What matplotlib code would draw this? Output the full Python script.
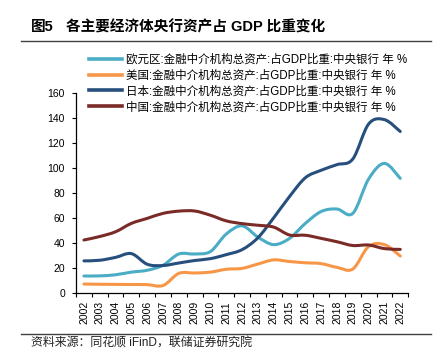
import numpy as np
import matplotlib
matplotlib.use('Agg')
import matplotlib.pyplot as plt
from matplotlib.path import Path
from matplotlib.patches import PathPatch
from matplotlib.lines import Line2D

plt.rcParams['font.family'] = ['Liberation Sans', 'Noto Sans CJK SC', 'DejaVu Sans']

# data
years = [str(y) for y in range(2002, 2023)]
euro = [13.4, 13.5, 14.4, 16.5, 18, 22, 31, 31, 33, 47, 53.5, 44.5, 38.5, 43.5, 55.5, 65, 67, 63.5, 91, 103.5, 91.5]
usa = [7, 6.8, 6.7, 6.6, 6.5, 5.8, 15.5, 15.8, 16.5, 18.8, 19.5, 23, 26.3, 25, 24, 23.3, 20.3, 19, 37, 38.5, 29.4]
japan = [25.5, 26, 28.3, 31.3, 22.8, 21.8, 23.8, 25.8, 27.3, 30.5, 34.5, 44, 60, 77, 92, 98, 102.5, 107, 135, 138.5, 129]
china = [42.2, 45, 48.8, 55.5, 59.5, 63.5, 65.3, 65.4, 62, 57.5, 55.3, 54, 52.5, 46.2, 46, 43.5, 40.8, 37.8, 38.2, 35.3, 34.7]

labels = ['欧元区:金融中介机构总资产:占GDP比重:中央银行 年 %',
          '美国:金融中介机构总资产:占GDP比重:中央银行 年 %',
          '日本:金融中介机构总资产:占GDP比重:中央银行 年 %',
          '中国:金融中介机构总资产:占GDP比重:中央银行 年 %']
colors = ['#4BACC6', '#F79646', '#274F7D', '#7A2B27']


def smooth_path(xs, ys):
    # excel-like smoothed line as cubic bezier segments
    pts = np.column_stack([xs, ys])
    verts = [pts[0]]
    codes = [Path.MOVETO]
    n = len(pts)
    for i in range(n - 1):
        p0 = pts[max(i - 1, 0)]
        p1 = pts[i]
        p2 = pts[i + 1]
        p3 = pts[min(i + 2, n - 1)]
        c1 = p1 + (p2 - p0) / 6.0
        c2 = p2 - (p3 - p1) / 6.0
        verts += [c1, c2, p2]
        codes += [Path.CURVE4] * 3
    return Path(verts, codes)


fig = plt.figure(figsize=(4.37, 3.54), dpi=100)
ax = fig.add_axes([0.174, 0.173, 0.76, 0.565])

x = np.arange(len(years))
series = [euro, usa, japan, china]
for vals, c in zip(series, colors):
    patch = PathPatch(smooth_path(x, vals), facecolor='none', edgecolor=c,
                      lw=2.2, capstyle='round', joinstyle='round')
    ax.add_patch(patch)

ax.set_xlim(-0.5, len(years) - 0.5)
ax.set_ylim(0, 160)
ax.set_yticks(range(0, 161, 20))
ax.set_xticks(x)
ax.set_xticklabels(years, rotation=90)
ax.set_xticks(np.arange(-0.5, len(years), 1), minor=True)
ax.tick_params(axis='x', which='major', length=0, pad=6, labelsize=7.5)
ax.tick_params(axis='x', which='minor', length=3, width=0.8, direction='out')
ax.tick_params(axis='y', length=3, width=0.8, pad=5, labelsize=7.5)
for s in ['top', 'right']:
    ax.spines[s].set_visible(False)
for s in ['left', 'bottom']:
    ax.spines[s].set_linewidth(0.9)

handles = [Line2D([], [], color=c, lw=2.6) for c in colors]
fig.legend(handles, labels, loc='upper left', bbox_to_anchor=(0.203, 0.848),
           frameon=False, fontsize=8.3, handlelength=2.9, handletextpad=0.31,
           labelspacing=0.33, borderpad=0, borderaxespad=0)

# title and source
fig.text(0.071, 0.924, '图5', fontsize=10.5, fontweight='bold', va='center')
fig.text(0.151, 0.924, '各主要经济体央行资产占 GDP 比重变化', fontsize=10.5,
         fontweight='bold', va='center')
fig.add_artist(Line2D([0.048, 0.986], [0.883, 0.883], color='#404040', lw=1.0))
fig.add_artist(Line2D([0.048, 0.986], [0.0565, 0.0565], color='#404040', lw=1.0))
fig.text(0.071, 0.031, '资料来源：同花顺 iFinD，联储证券研究院', fontsize=8.6,
         va='center', color='#222222')

fig.savefig('out.png', dpi=100)
